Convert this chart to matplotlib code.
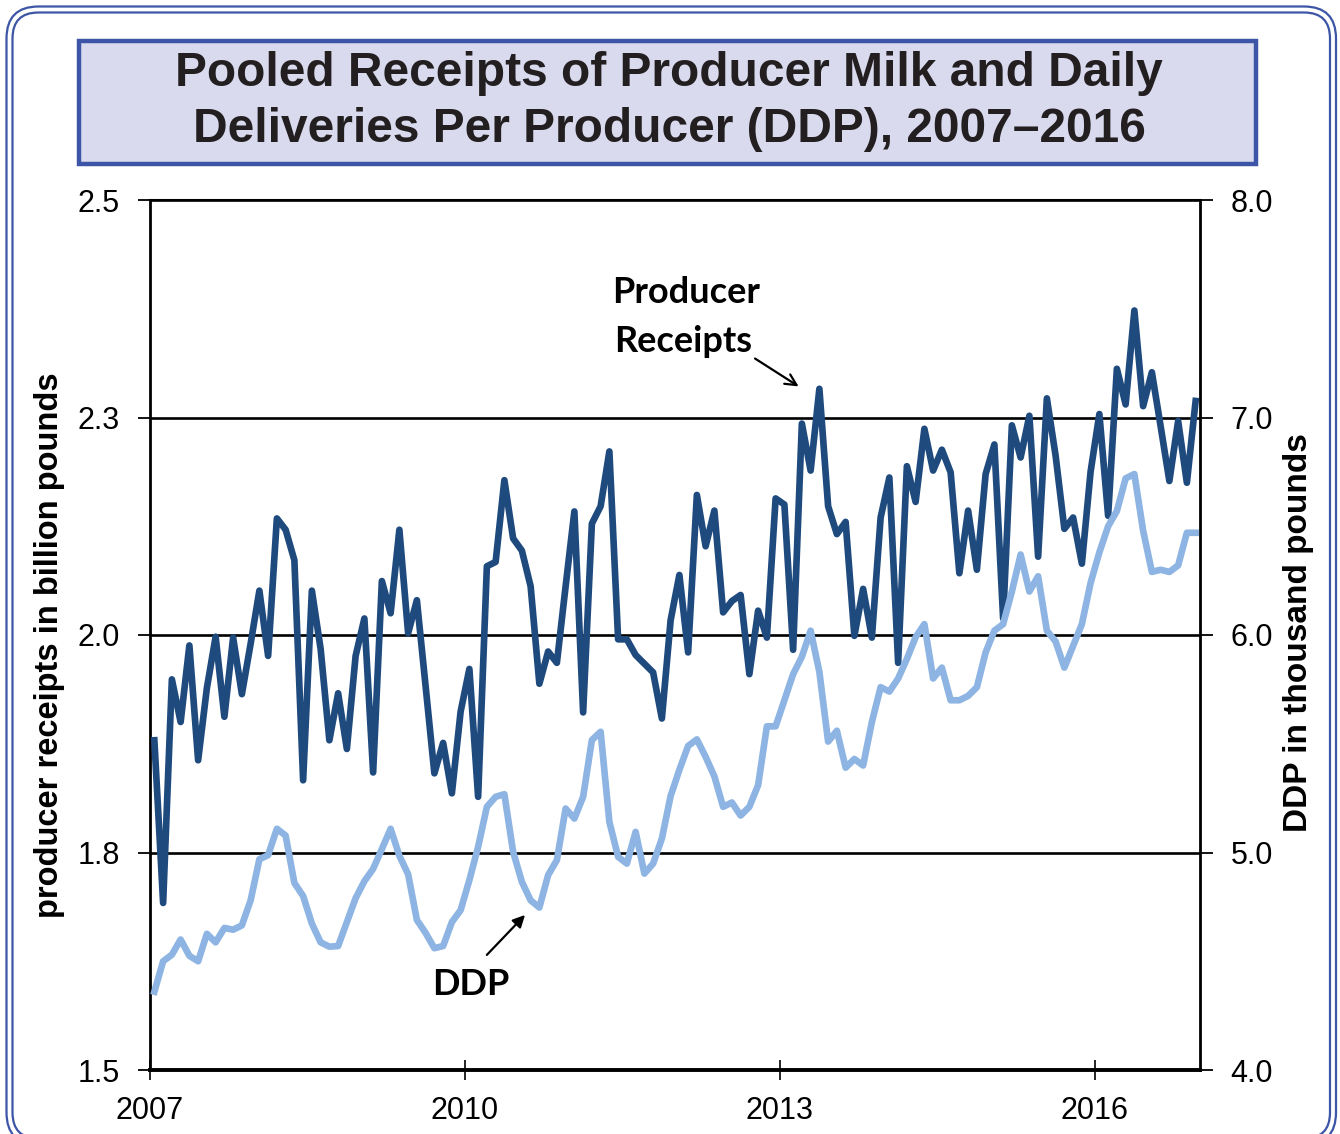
import numpy as np
import matplotlib
matplotlib.use('Agg')
import matplotlib.pyplot as plt
from matplotlib.patches import FancyBboxPatch, Rectangle

# monthly values, Jan 2007 - Dec 2016
receipts = [1.879, 1.692, 1.949, 1.900, 1.988, 1.856, 1.939, 1.998, 1.906, 1.997, 1.932, 1.990,
            2.051, 1.976, 2.134, 2.121, 2.086, 1.833, 2.051, 1.984, 1.879, 1.933, 1.869, 1.976,
            2.019, 1.842, 2.062, 2.025, 2.121, 2.002, 2.040, 1.941, 1.841, 1.876, 1.818, 1.912,
            1.961, 1.814, 2.079, 2.084, 2.178, 2.111, 2.097, 2.056, 1.944, 1.981, 1.968, 2.056,
            2.142, 1.911, 2.128, 2.148, 2.211, 1.995, 1.995, 1.977, 1.967, 1.957, 1.904, 2.017,
            2.069, 1.980, 2.161, 2.102, 2.143, 2.026, 2.039, 2.046, 1.955, 2.028, 1.997, 2.157,
            2.150, 1.983, 2.243, 2.189, 2.283, 2.148, 2.116, 2.130, 1.999, 2.053, 1.997, 2.135,
            2.181, 1.968, 2.194, 2.153, 2.237, 2.189, 2.213, 2.187, 2.071, 2.143, 2.075, 2.185,
            2.219, 2.019, 2.241, 2.204, 2.252, 2.090, 2.272, 2.206, 2.122, 2.135, 2.082, 2.188,
            2.254, 2.137, 2.306, 2.265, 2.373, 2.263, 2.302, 2.240, 2.177, 2.246, 2.175, 2.269]
ddp = [4.36, 4.50, 4.53, 4.60, 4.525, 4.50, 4.626, 4.587, 4.653, 4.645, 4.665, 4.78,
       4.969, 4.988, 5.109, 5.078, 4.86, 4.80, 4.673, 4.587, 4.567, 4.57, 4.68, 4.79,
       4.868, 4.925, 5.016, 5.109, 4.985, 4.90, 4.69, 4.63, 4.56, 4.57, 4.68, 4.735,
       4.873, 5.026, 5.21, 5.256, 5.268, 5.003, 4.865, 4.78, 4.747, 4.896, 4.965, 5.202,
       5.156, 5.256, 5.517, 5.555, 5.141, 4.98, 4.949, 5.095, 4.903, 4.949, 5.064, 5.26,
       5.38, 5.49, 5.52, 5.44, 5.35, 5.21, 5.23, 5.17, 5.21, 5.31, 5.58, 5.58,
       5.70, 5.82, 5.90, 6.02, 5.83, 5.51, 5.56, 5.39, 5.43, 5.40, 5.60, 5.76,
       5.74, 5.80, 5.89, 5.99, 6.05, 5.80, 5.85, 5.70, 5.70, 5.72, 5.76, 5.92,
       6.02, 6.05, 6.20, 6.37, 6.20, 6.27, 6.02, 5.97, 5.85, 5.95, 6.05, 6.24,
       6.38, 6.50, 6.57, 6.72, 6.74, 6.48, 6.29, 6.30, 6.29, 6.32, 6.47, 6.47]

left_ticks = [1.5, 1.75, 2.0, 2.25, 2.5]
left_labels = ['1.5', '1.8', '2.0', '2.3', '2.5']
right_ticks = [4, 5, 6, 7, 8]
right_labels = ['4.0', '5.0', '6.0', '7.0', '8.0']
year_ticks = [2007, 2010, 2013, 2016]

months = np.arange(len(receipts))
x = 2007 + (months + 0.5) / 12

plt.rcParams['font.family'] = ['Liberation Sans', 'DejaVu Sans']
dark = '#1F4A7E'
light = '#8DB4E2'
frame_blue = '#3C55A6'

fig = plt.figure(figsize=(13.4, 11.34), dpi=100)

# background layer in pixel units for frame and title box
bg = fig.add_axes([0, 0, 1, 1], zorder=0)
bg.set_xlim(0, 1340)
bg.set_ylim(0, 1134)
bg.axis('off')
bg.add_patch(FancyBboxPatch((6.5, -10.5), 1329.5, 1138, boxstyle='round,pad=0,rounding_size=32',
                            fc='none', ec=frame_blue, lw=1.6))
bg.add_patch(FancyBboxPatch((12.5, -4.5), 1317.5, 1126, boxstyle='round,pad=0,rounding_size=26',
                            fc='none', ec=frame_blue, lw=1.6))
bg.add_patch(Rectangle((79, 970), 1177, 123, fc='#D9DAEE', ec=frame_blue, lw=3.2))
bg.text(669, 1061, 'Pooled Receipts of Producer Milk and Daily', ha='center', va='center',
        fontsize=34.5, weight='bold', color='#231F20')
bg.text(669, 1004, 'Deliveries Per Producer (DDP), 2007\u20132016', ha='center', va='center',
        fontsize=34.5, weight='bold', color='#231F20')
bg.text(50, 489, 'producer receipts in billion pounds', rotation=90, ha='center', va='center',
        fontsize=23.5, weight='bold', color='black')
bg.text(1299, 501, 'DDP in thousand pounds', rotation=90, ha='center', va='center',
        fontsize=24, weight='bold', color='black')

ax = fig.add_axes([150 / 1340, 1 - 1070 / 1134, 1050 / 1340, 870 / 1134], zorder=1)
ax.plot(x, receipts, color=dark, lw=4.8, zorder=3)
ax.set_xlim(2007, 2017)
ax.set_ylim(1.5, 2.5)
ax.set_yticks(left_ticks)
ax.set_yticklabels(left_labels)
ax.set_xticks(year_ticks)
ax.set_xticklabels([str(t) for t in year_ticks])
ax.yaxis.grid(True, color='black', lw=1.9)
ax.set_axisbelow(True)
ax.tick_params(axis='y', direction='out', length=8.6, width=1.3, labelsize=22, pad=13)
ax.tick_params(axis='x', direction='inout', length=15, width=1.2, labelsize=22, pad=11)
ax.spines['left'].set_linewidth(2.0)
ax.spines['right'].set_visible(False)
ax.spines['top'].set_linewidth(1.5)
ax.spines['bottom'].set_linewidth(2.8)

ax2 = ax.twinx()
ax2.plot(x, ddp, color=light, lw=4.8, zorder=3)
ax2.set_ylim(4, 8)
ax2.set_yticks(right_ticks)
ax2.set_yticklabels(right_labels)
ax2.tick_params(axis='y', direction='out', length=9, width=1.3, labelsize=22, pad=13)
for s in ['left', 'top', 'bottom']:
    ax2.spines[s].set_visible(False)
ax2.spines['right'].set_linewidth(2.0)

# annotations
note_font = dict(family=['Lato', 'DejaVu Sans'], weight='bold', fontsize=26, color='black')
ax.text(2012.11, 2.394, 'Producer', ha='center', va='center', **note_font)
ax.text(2012.08, 2.337, 'Receipts', ha='center', va='center', **note_font)
ax.annotate('', xy=(2013.20, 2.284), xytext=(2012.74, 2.3195),
            arrowprops=dict(arrowstyle='->', lw=1.6, color='black', mutation_scale=20))
ax.text(2010.06, 1.598, 'DDP', ha='center', va='center', **note_font)
ax.annotate('', xy=(2010.59, 1.6805), xytext=(2010.19, 1.630),
            arrowprops=dict(arrowstyle='-|>', lw=1.6, color='black', mutation_scale=18))

fig.savefig('out.png', dpi=100)
